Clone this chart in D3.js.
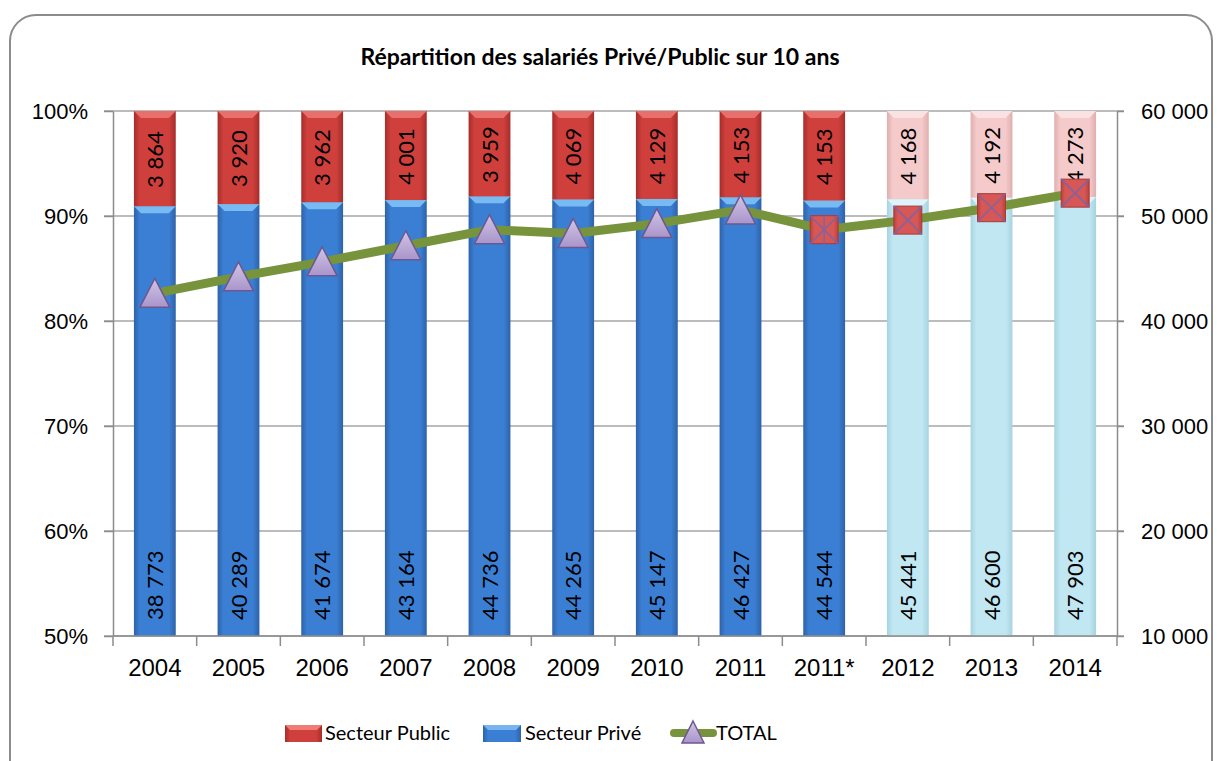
<!DOCTYPE html>
<html>
<head>
<meta charset="utf-8">
<script src="https://cdn.jsdelivr.net/npm/d3@7"></script>
<style>
  body { margin: 0; background: #fff; }
  svg { font-family: Lato, "Open Sans", sans-serif; }
</style>
</head>
<body>
<script>
// Data
const years = ["2004", "2005", "2006", "2007", "2008", "2009", "2010", "2011", "2011*", "2012", "2013", "2014"];
const publicValues = [3864, 3920, 3962, 4001, 3959, 4069, 4129, 4153, 4153, 4168, 4192, 4273];
const privateValues = [38773, 40289, 41674, 43164, 44736, 44265, 45147, 46427, 44544, 45441, 46600, 47903];
const projected = ["2012", "2013", "2014"];
const squareMarkers = ["2011*", "2012", "2013", "2014"];
const leftTicks = [0.5, 0.6, 0.7, 0.8, 0.9, 1.0];
const rightTicks = [10000, 20000, 30000, 40000, 50000, 60000];

const data = years.map((y, i) => ({
  year: y,
  pub: publicValues[i],
  priv: privateValues[i],
  total: publicValues[i] + privateValues[i],
  share: privateValues[i] / (publicValues[i] + privateValues[i]),
  light: projected.includes(y)
}));

const width = 1217, height = 761;
const margin = { top: 111, right: 100, bottom: 125, left: 113 };

const fr = d3.formatLocale({ decimal: ",", thousands: "\u00a0", grouping: [3], currency: ["", "€"] });
const fmt = fr.format(",");

const svg = d3.select("body").append("svg")
  .attr("width", width)
  .attr("height", height);

// Outer rounded frame
svg.append("rect")
  .attr("x", 10).attr("y", 15)
  .attr("width", 1202).attr("height", 780)
  .attr("rx", 26)
  .attr("fill", "#fff")
  .attr("stroke", "#8c8c8c")
  .attr("stroke-width", 2);

// Title
svg.append("text")
  .attr("x", 600).attr("y", 65)
  .attr("text-anchor", "middle")
  .style("font-size", "23px")
  .style("font-weight", "bold")
  .text("Répartition des salariés Privé/Public sur 10 ans");

const x = d3.scaleBand()
  .domain(years)
  .range([margin.left, width - margin.right])
  .paddingInner(0.5)
  .paddingOuter(0.25);

const yLeft = d3.scaleLinear().domain([0.5, 1]).range([height - margin.bottom, margin.top]);
const yRight = d3.scaleLinear().domain([10000, 60000]).range([height - margin.bottom, margin.top]);

// Gradients
const defs = svg.append("defs");
function hGrad(id, edge, mid) {
  const g = defs.append("linearGradient").attr("id", id)
    .attr("x1", "0%").attr("x2", "100%").attr("y1", "0%").attr("y2", "0%");
  g.append("stop").attr("offset", "0%").attr("stop-color", edge);
  g.append("stop").attr("offset", "14%").attr("stop-color", mid);
  g.append("stop").attr("offset", "84%").attr("stop-color", mid);
  g.append("stop").attr("offset", "100%").attr("stop-color", edge);
}
hGrad("g-pub", "#a52e2b", "#cf3f3c");
hGrad("g-priv", "#2e62a8", "#3b7fd4");
hGrad("g-pub-l", "#e0aeae", "#f4caca");
hGrad("g-priv-l", "#a6d3e0", "#c0e7f2");
hGrad("g-mark", "#b8413f", "#d65755");
const tri = defs.append("linearGradient").attr("id", "g-tri")
  .attr("x1", "0%").attr("x2", "0%").attr("y1", "0%").attr("y2", "100%");
tri.append("stop").attr("offset", "0%").attr("stop-color", "#d2c4e6");
tri.append("stop").attr("offset", "100%").attr("stop-color", "#a995ca");

const colors = {
  pub: d => d.light ? "url(#g-pub-l)" : "url(#g-pub)",
  priv: d => d.light ? "url(#g-priv-l)" : "url(#g-priv)",
  pubTop: d => d.light ? "#fae2e2" : "#e8706c",
  privTop: d => d.light ? "#dcf4fa" : "#78baf2"
};

// Gridlines
svg.append("g")
  .selectAll("line")
  .data(leftTicks)
  .join("line")
  .attr("x1", margin.left - 9)
  .attr("x2", width - margin.right + 7)
  .attr("y1", d => yLeft(d))
  .attr("y2", d => yLeft(d))
  .attr("stroke", "#a6a6a6")
  .attr("stroke-width", 1.5);

// Bars
const bars = svg.append("g").selectAll("g").data(data).join("g");

bars.append("rect")
  .attr("x", d => x(d.year))
  .attr("y", d => yLeft(d.share))
  .attr("width", x.bandwidth())
  .attr("height", d => yLeft(0.5) - yLeft(d.share))
  .attr("fill", colors.priv);

bars.append("path")
  .attr("d", d => {
    const x0 = x(d.year), x1 = x0 + x.bandwidth(), y0 = yLeft(d.share);
    return `M${x0},${y0}L${x1},${y0}L${x1 - 7},${y0 + 7}L${x0 + 7},${y0 + 7}Z`;
  })
  .attr("fill", colors.privTop);

bars.append("rect")
  .attr("x", d => x(d.year))
  .attr("y", yLeft(1))
  .attr("width", x.bandwidth())
  .attr("height", d => yLeft(d.share) - yLeft(1))
  .attr("fill", colors.pub);

bars.append("path")
  .attr("d", d => {
    const x0 = x(d.year), x1 = x0 + x.bandwidth(), y0 = yLeft(1);
    return `M${x0},${y0}L${x1},${y0}L${x1 - 7},${y0 + 7}L${x0 + 7},${y0 + 7}Z`;
  })
  .attr("fill", colors.pubTop);

// Labels
const cx = d => x(d.year) + x.bandwidth() / 2;
bars.append("text")
  .attr("transform", d => `translate(${cx(d) + 8},${yLeft(0.5) - 16}) rotate(-90)`)
  .style("font-size", "22px")
  .text(d => fmt(d.priv));

bars.append("text")
  .attr("transform", d => `translate(${cx(d) + 8},${(yLeft(1) + yLeft(d.share)) / 2 + 1}) rotate(-90)`)
  .attr("text-anchor", "middle")
  .style("font-size", "22px")
  .text(d => fmt(d.pub));

// Axes
const axisColor = "#8c8c8c";
function styleAxis(size) {
  return g => {
    g.select(".domain").attr("stroke", axisColor).attr("stroke-width", 1.5);
    g.selectAll(".tick line").attr("stroke", axisColor).attr("stroke-width", 1.5);
    g.selectAll(".tick text").style("font-size", size).attr("fill", "#000");
  };
}

svg.append("g")
  .attr("transform", `translate(${margin.left},0)`)
  .call(d3.axisLeft(yLeft).tickValues(leftTicks).tickFormat(d3.format(".0%")).tickSize(9).tickSizeOuter(0).tickPadding(16))
  .call(styleAxis("22px"));

svg.append("g")
  .attr("transform", `translate(${width - margin.right},0)`)
  .call(d3.axisRight(yRight).tickValues(rightTicks).tickFormat(fmt).tickSize(7).tickSizeOuter(0).tickPadding(17))
  .call(styleAxis("22px"));

const xAxis = svg.append("g")
  .attr("transform", `translate(0,${yLeft(0.5)})`)
  .call(d3.axisBottom(x).tickSize(0).tickPadding(23))
  .call(styleAxis("24px"));
xAxis.select(".domain").attr("d", `M${margin.left},0H${width - margin.right}`);
// Category boundary ticks
xAxis.append("g").selectAll("line")
  .data(d3.range(years.length + 1))
  .join("line")
  .attr("x1", i => margin.left + i * x.step())
  .attr("x2", i => margin.left + i * x.step())
  .attr("y1", 0).attr("y2", 10)
  .attr("stroke", axisColor).attr("stroke-width", 1.5);

// Total line
const line = d3.line().x(cx).y(d => yRight(d.total));
svg.append("path")
  .datum(data)
  .attr("d", line)
  .attr("fill", "none")
  .attr("stroke", "#77933c")
  .attr("stroke-width", 9)
  .attr("stroke-linejoin", "round");

const triPath = "M0,-15L15,14L-15,14Z";
const marks = svg.append("g").selectAll("g").data(data).join("g")
  .attr("transform", d => `translate(${cx(d)},${yRight(d.total)})`);

marks.filter(d => !squareMarkers.includes(d.year))
  .append("path")
  .attr("d", triPath)
  .attr("fill", "url(#g-tri)")
  .attr("stroke", "#6c5891")
  .attr("stroke-width", 1.5);

const sq = marks.filter(d => squareMarkers.includes(d.year));
sq.append("rect")
  .attr("x", -14).attr("y", -14).attr("width", 28).attr("height", 28)
  .attr("fill", "url(#g-mark)")
  .attr("stroke", "#a83a38").attr("stroke-width", 1);
sq.append("path")
  .attr("d", "M-14,-14L14,14M14,-14L-14,14")
  .attr("stroke", "#8064a2").attr("stroke-width", 1.5);
sq.filter(d => d.year === "2011*").append("path")
  .attr("d", "M0,-14V14")
  .attr("stroke", "#8064a2").attr("stroke-width", 1.5);

// Legend
const legend = svg.append("g").attr("transform", "translate(0,733)");
legend.append("rect").attr("x", 285).attr("y", -8).attr("width", 37).attr("height", 17).attr("fill", "url(#g-pub)");
legend.append("path").attr("d", "M285,-8H322L317,-3H290Z").attr("fill", "#f07c78");
legend.append("text").attr("x", 325).attr("y", 7).style("font-size", "20px").text("Secteur Public");

legend.append("rect").attr("x", 483).attr("y", -8).attr("width", 38).attr("height", 17).attr("fill", "url(#g-priv)");
legend.append("path").attr("d", "M483,-8H521L516,-3H488Z").attr("fill", "#78b4f0");
legend.append("text").attr("x", 525).attr("y", 7).style("font-size", "20px").text("Secteur Privé");

legend.append("line").attr("x1", 674).attr("x2", 713).attr("y1", 0).attr("y2", 0)
  .attr("stroke", "#77933c").attr("stroke-width", 8).attr("stroke-linecap", "round");
legend.append("path").attr("d", "M693,-12L704,10L682,10Z")
  .attr("fill", "url(#g-tri)").attr("stroke", "#6c5891").attr("stroke-width", 1.5);
legend.append("text").attr("x", 716).attr("y", 7).style("font-size", "20px").text("TOTAL");
</script>
</body>
</html>
